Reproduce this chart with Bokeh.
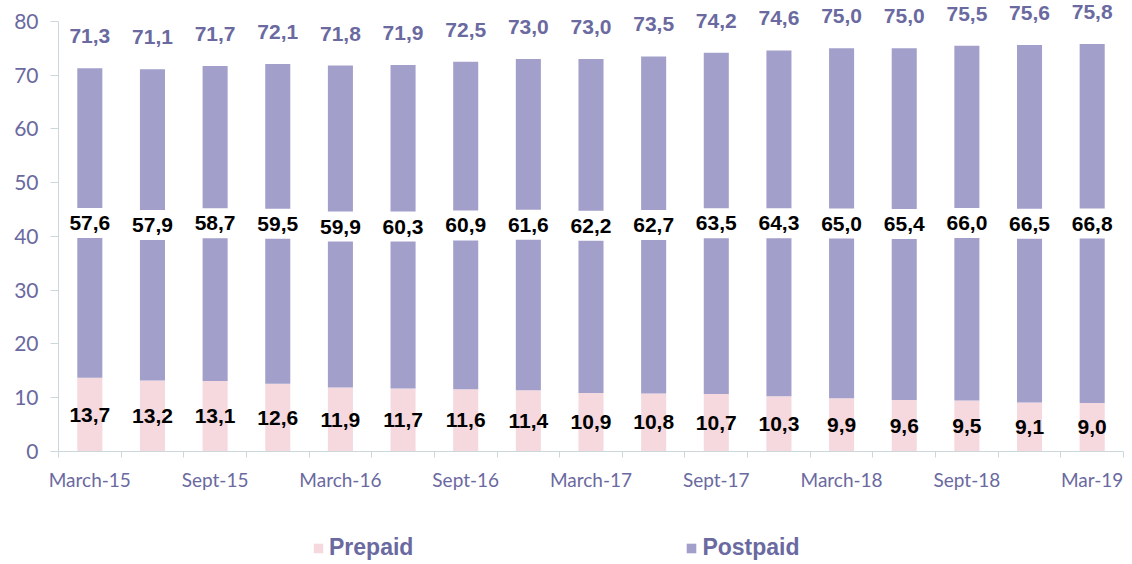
from bokeh.plotting import figure
from bokeh.layouts import column
from bokeh.models import (ColumnDataSource, Range1d, FixedTicker, Legend, LegendItem)
from bokeh.core.properties import value
from bokeh.embed import file_html
from bokeh.resources import INLINE

periods = ["March-15", "June-15", "Sept-15", "Dec-15", "March-16", "June-16", "Sept-16",
           "Dec-16", "March-17", "June-17", "Sept-17", "Dec-17", "March-18", "June-18",
           "Sept-18", "Dec-18", "Mar-19"]
prepaid = [13.7, 13.2, 13.1, 12.6, 11.9, 11.7, 11.6, 11.4, 10.9, 10.8, 10.7, 10.3, 9.9, 9.6, 9.5, 9.1, 9.0]
postpaid = [57.6, 57.9, 58.7, 59.5, 59.9, 60.3, 60.9, 61.6, 62.2, 62.7, 63.5, 64.3, 65.0, 65.4, 66.0, 66.5, 66.8]
totals = [71.3, 71.1, 71.7, 72.1, 71.8, 71.9, 72.5, 73.0, 73.0, 73.5, 74.2, 74.6, 75.0, 75.0, 75.5, 75.6, 75.8]
shown_labels = ["March-15", "Sept-15", "March-16", "Sept-16", "March-17", "Sept-17",
                "March-18", "Sept-18", "Mar-19"]
series_names = ["Prepaid", "Postpaid"]

PRE_COL = "#F5D9DE"
POST_COL = "#A29FCA"
LBL_COL = "#6A69A0"
AXIS_COL = "#CCD7DB"

def fmt(v):
    return f"{v:.1f}".replace(".", ",")

n = len(periods)
xs = list(range(n))
src = ColumnDataSource(dict(
    x=xs,
    pre=prepaid,
    post=postpaid,
    tot=totals,
    pre_mid=[p / 2 for p in prepaid],
    post_mid=[p + q / 2 for p, q in zip(prepaid, postpaid)],
    pre_txt=[fmt(v) for v in prepaid],
    post_txt=[fmt(v) for v in postpaid],
    tot_txt=[fmt(v) for v in totals],
))

p = figure(width=1124, height=500, output_backend="svg", toolbar_location=None,
           x_range=Range1d(-0.5, n - 0.5), y_range=Range1d(0, 83.9),
           min_border_left=58, min_border_right=1, min_border_top=0, min_border_bottom=49)
p.outline_line_color = None
p.xgrid.grid_line_color = None
p.ygrid.grid_line_color = None

p.vbar(x="x", top="pre", bottom=0, width=0.4, source=src,
       fill_color=PRE_COL, line_color=None)
p.vbar(x="x", top="tot", bottom="pre", width=0.4, source=src,
       fill_color=POST_COL, line_color=None)

# labels
p.text(x="x", y="pre_mid", text="pre_txt", source=src, text_align="center",
       text_baseline="middle", text_font=value("Liberation Sans"), text_font_style="bold",
       text_font_size="21px", text_color="black")
p.text(x="x", y="post_mid", text="post_txt", source=src, text_align="center",
       text_baseline="middle", text_font=value("Liberation Sans"), text_font_style="bold",
       text_font_size="21px", text_color="black",
       background_fill_color="white", padding=8)
p.text(x="x", y="tot", text="tot_txt", source=src, text_align="center",
       text_baseline="middle", y_offset=-32, text_font=value("Liberation Sans"),
       text_font_style="bold", text_font_size="21px", text_color=LBL_COL)

# y axis
p.yaxis.ticker = FixedTicker(ticks=list(range(0, 81, 10)))
p.yaxis.bounds = (0, 80)
p.yaxis.axis_line_color = AXIS_COL
p.yaxis.major_tick_line_color = AXIS_COL
p.yaxis.major_tick_out = 8
p.yaxis.major_tick_in = 0
p.yaxis.minor_tick_line_color = None
p.yaxis.major_label_text_font = "Lato"
p.yaxis.major_label_text_font_size = "21px"
p.yaxis.major_label_text_color = LBL_COL
p.yaxis.major_label_standoff = 12

# x axis: labels at every other bar, ticks at category boundaries
label_pos = [periods.index(l) for l in shown_labels]
p.xaxis.ticker = FixedTicker(ticks=label_pos, minor_ticks=[i - 0.5 for i in range(n + 1)])
p.xaxis.major_label_overrides = {i: periods[i] for i in label_pos}
p.xaxis.axis_line_color = AXIS_COL
p.xaxis.major_tick_line_color = None
p.xaxis.minor_tick_line_color = AXIS_COL
p.xaxis.minor_tick_out = 6
p.xaxis.minor_tick_in = 0
p.xaxis.major_tick_out = 6
p.xaxis.major_label_text_font = "Lato"
p.xaxis.major_label_text_font_size = "19px"
p.xaxis.major_label_text_color = LBL_COL
p.xaxis.major_label_standoff = 10

# legend figure (zero-height placeholder bars only serve as legend swatches)
p2 = figure(width=1124, height=64, output_backend="svg", toolbar_location=None,
            x_range=Range1d(0, 1), y_range=Range1d(0, 1),
            min_border_left=58, min_border_right=1, min_border_top=0, min_border_bottom=0)
p2.axis.visible = False
p2.xgrid.grid_line_color = None
p2.ygrid.grid_line_color = None
p2.outline_line_color = None
lsrc = ColumnDataSource(dict(x=[0.5], y0=[0.0]))
lr_pre = p2.vbar(x="x", top="y0", bottom="y0", width=0.01, source=lsrc,
                 fill_color=PRE_COL, line_color=None)
lr_post = p2.vbar(x="x", top="y0", bottom="y0", width=0.01, source=lsrc,
                  fill_color=POST_COL, line_color=None)
legend = Legend(items=[LegendItem(label=series_names[0], renderers=[lr_pre]),
                       LegendItem(label=series_names[1], renderers=[lr_post])],
                orientation="horizontal", location=(254, 3),
                glyph_width=12, glyph_height=12, label_standoff=5, spacing=272,
                padding=0, margin=0, border_line_color=None, background_fill_alpha=0,
                label_text_font="Liberation Sans", label_text_font_style="bold",
                label_text_font_size="23px", label_text_color=LBL_COL)
p2.add_layout(legend, "center")

layout = column(p, p2, spacing=0)
open("out.html", "w").write(file_html(layout, INLINE))
